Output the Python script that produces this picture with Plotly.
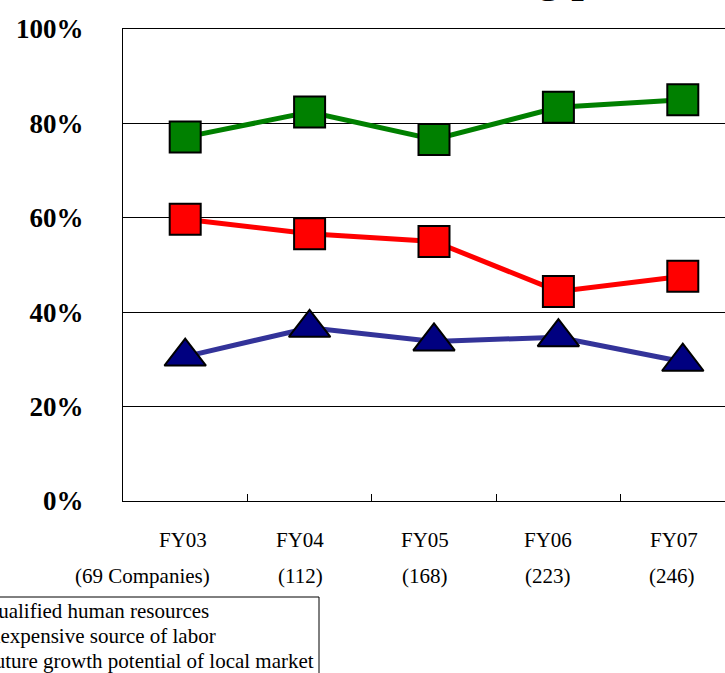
import plotly.graph_objects as go

categories = ["FY03", "FY04", "FY05", "FY06", "FY07"]
companies = ["(69 Companies)", "(112)", "(168)", "(223)", "(246)"]

qualified_hr = [30.6, 36.7, 33.8, 34.7, 29.5]
inexpensive_labor = [59.7, 56.6, 55.0, 44.4, 47.6]
growth_potential = [77.1, 82.4, 76.6, 83.4, 85.0]

series_names = [
    "Qualified human resources",
    "Inexpensive source of labor",
    "Future growth potential of local market",
]

ytick_vals = [0, 20, 40, 60, 80, 100]
ytick_labels = ["0%", "20%", "40%", "60%", "80%", "100%"]

title_text = "Rating percentages"

FONT = "'Liberation Serif', 'Times New Roman', Times, serif"

# plot-area geometry (pixels)
PL, PT, PB, W, H = 123, 29, 501, 725, 673
PH = PB - PT
PW = W - PL


def py(px):
    """pixel row -> paper y"""
    return (PB - px) / PH


def pxp(px):
    """pixel column -> paper x"""
    return (px - PL) / PW


fig = go.Figure()
fig.add_trace(go.Scatter(
    x=categories, y=qualified_hr, name=series_names[0],
    mode="lines+markers",
    line=dict(color="#333399", width=5),
    marker=dict(symbol="triangle-up", size=36, color="#000080",
                line=dict(color="black", width=2)),
))
fig.add_trace(go.Scatter(
    x=categories, y=inexpensive_labor, name=series_names[1],
    mode="lines+markers",
    line=dict(color="#FF0000", width=5),
    marker=dict(symbol="square", size=31, color="#FF0000",
                line=dict(color="black", width=2)),
))
fig.add_trace(go.Scatter(
    x=categories, y=growth_potential, name=series_names[2],
    mode="lines+markers",
    line=dict(color="#008000", width=5),
    marker=dict(symbol="square", size=31, color="#008000",
                line=dict(color="black", width=2)),
))

annotations = []
fy_offsets = [-2, -10, -9, -10, -9]
co_offsets = [-43, -9, -9, -10, -11]
for i, (fy, co) in enumerate(zip(categories, companies)):
    annotations.append(dict(
        x=fy, xref="x", y=py(540), yref="paper", yanchor="middle", xanchor="center",
        xshift=fy_offsets[i], text=fy, showarrow=False,
        font=dict(family=FONT, size=21, color="black"),
    ))
    annotations.append(dict(
        x=fy, xref="x", y=py(576), yref="paper", yanchor="middle", xanchor="center",
        xshift=co_offsets[i], text=co, showarrow=False,
        font=dict(family=FONT, size=21, color="black"),
    ))

# legend (manual so row spacing matches)
for k, name in enumerate(series_names):
    annotations.append(dict(
        x=pxp(-19), xref="paper", xanchor="left",
        y=py(611 + 25 * k), yref="paper", yanchor="middle",
        text=name, showarrow=False,
        font=dict(family=FONT, size=21, color="black"),
    ))

annotations.append(dict(
    x=pxp(428), xref="paper", xanchor="left", y=1, yref="paper", yanchor="bottom",
    yshift=25, text=f"<b>{title_text}</b>", showarrow=False,
    font=dict(family=FONT, size=45, color="black"),
))

fig.update_layout(
    width=W, height=H,
    margin=dict(l=PL, r=0, t=PT, b=H - PB, autoexpand=False),
    paper_bgcolor="white", plot_bgcolor="white",
    font=dict(family=FONT, color="black"),
    showlegend=False,
    annotations=annotations,
    shapes=[dict(
        type="rect", xref="paper", yref="paper",
        x0=pxp(-40), x1=pxp(319), y0=py(597), y1=py(720),
        line=dict(color="black", width=1), fillcolor="rgba(0,0,0,0)",
        layer="above",
    )],
)
fig.update_xaxes(
    type="category",
    range=[-0.5, -0.5 + PW / 124.4],
    showticklabels=False,
    tickson="boundaries", ticks="inside", ticklen=7, tickcolor="black",
    showgrid=False, zeroline=False,
    showline=True, linecolor="black", linewidth=1, mirror=True,
)
fig.update_yaxes(
    range=[0, 100],
    tickvals=ytick_vals, ticktext=[f"<b>{t}</b>" for t in ytick_labels],
    ticks="", showgrid=True, gridcolor="black", gridwidth=1,
    zeroline=False, showline=True, linecolor="black", linewidth=1,
    tickfont=dict(family=FONT, size=27, color="black"),
    ticklabelstandoff=33,
)

fig.write_html("out.html", config={"displayModeBar": False},
               post_script="document.body.style.margin='0px';")
